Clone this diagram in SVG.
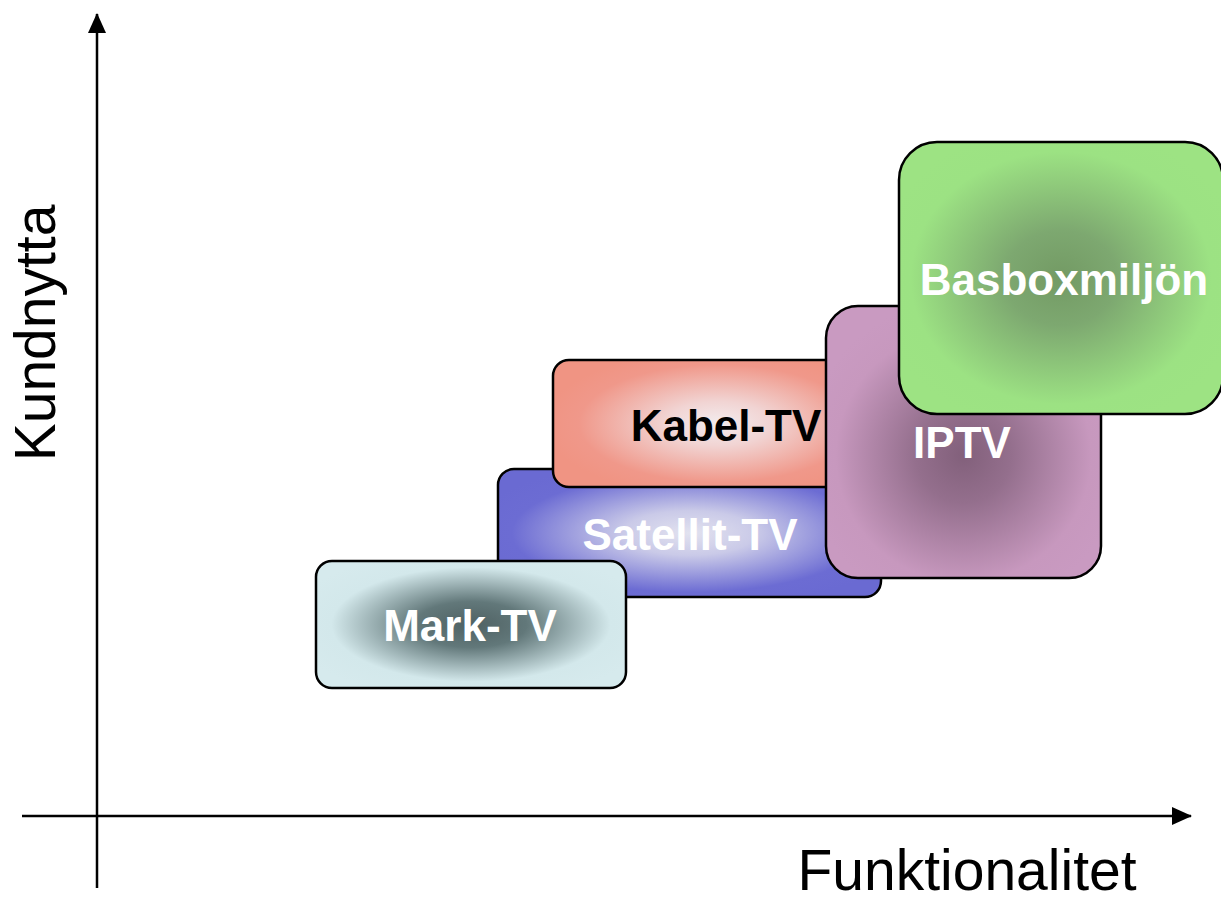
<svg xmlns="http://www.w3.org/2000/svg" width="1221" height="903" viewBox="0 0 1221 903">
<style>
.box{stroke:#000;stroke-width:2.5}
.lbl{font-family:"Liberation Sans",Arial,sans-serif;font-weight:bold;font-size:44px;text-anchor:middle}
.ax{font-family:"Liberation Sans",Arial,sans-serif;font-size:57px;fill:#000}
.axis{stroke:#000;stroke-width:2.5;fill:none}
</style>
<defs>
<marker id="arr" markerWidth="20" markerHeight="18" refX="19" refY="9" orient="auto" markerUnits="userSpaceOnUse" viewBox="0 0 20 18">
<path d="M0,0 L20,9 L0,18 z" fill="#000"/>
</marker>
<radialGradient id="gMark" cx="0.5" cy="0.5" r="0.6">
<stop offset="0" stop-color="#4f6163"/><stop offset="0.3" stop-color="#62787a"/><stop offset="0.75" stop-color="#d3e8eb"/><stop offset="1" stop-color="#d6eaed"/>
</radialGradient>
<radialGradient id="gSat" cx="0.5" cy="0.5" r="0.58">
<stop offset="0" stop-color="#e2e2ef"/><stop offset="0.3" stop-color="#cacae8"/><stop offset="0.8" stop-color="#6c6cd3"/><stop offset="1" stop-color="#6a6ad2"/>
</radialGradient>
<radialGradient id="gKab" cx="0.55" cy="0.5" r="0.58">
<stop offset="0" stop-color="#f3ecee"/><stop offset="0.3" stop-color="#f1d4d3"/><stop offset="0.8" stop-color="#f0988a"/><stop offset="1" stop-color="#f09483"/>
</radialGradient>
<radialGradient id="gIP" cx="0.5" cy="0.55" r="0.58">
<stop offset="0" stop-color="#82607b"/><stop offset="0.3" stop-color="#946f8d"/><stop offset="0.8" stop-color="#c798be"/><stop offset="1" stop-color="#c99ac1"/>
</radialGradient>
<radialGradient id="gBas" cx="0.5" cy="0.5" r="0.58">
<stop offset="0" stop-color="#739a64"/><stop offset="0.3" stop-color="#7da870"/><stop offset="0.8" stop-color="#9ce283"/><stop offset="1" stop-color="#9de383"/>
</radialGradient>
</defs>
<g id="connectors">
<line class="axis" x1="97" y1="888" x2="97" y2="14" marker-end="url(#arr)"/>
<line class="axis" x1="22" y1="816" x2="1191" y2="816" marker-end="url(#arr)"/>
</g>
<g id="satellit">
<rect class="box" x="498" y="469" width="383" height="128" rx="16" fill="url(#gSat)"/>
<text class="lbl" x="690" y="550" fill="#fff">Satellit-TV</text>
</g>
<g id="kabel">
<rect class="box" x="553" y="360" width="300" height="127" rx="16" fill="url(#gKab)"/>
<text class="lbl" x="726" y="441" fill="#000">Kabel-TV</text>
</g>
<g id="mark">
<rect class="box" x="316" y="561" width="310" height="127" rx="16" fill="url(#gMark)"/>
<text class="lbl" x="470" y="641" fill="#fff">Mark-TV</text>
</g>
<g id="iptv">
<rect class="box" x="826" y="306" width="275" height="272" rx="32" fill="url(#gIP)"/>
<text class="lbl" x="962" y="458" fill="#fff">IPTV</text>
</g>
<g id="basbox">
<rect class="box" x="899" y="142" width="324" height="272" rx="38" fill="url(#gBas)"/>
<text class="lbl" x="1064" y="295" fill="#fff">Basboxmiljön</text>
</g>
<g id="labels">
<text class="ax" transform="translate(55,333) rotate(-90)" text-anchor="middle">Kundnytta</text>
<text class="ax" x="967" y="890" text-anchor="middle">Funktionalitet</text>
</g>
</svg>
